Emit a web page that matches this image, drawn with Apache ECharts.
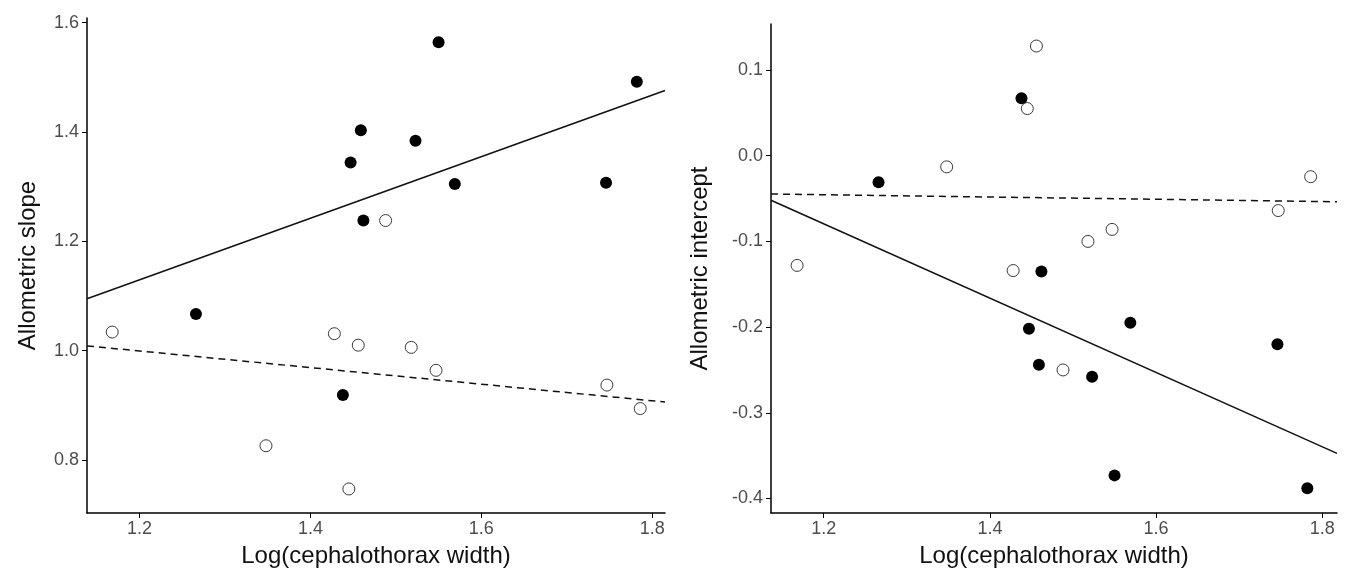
<!DOCTYPE html>
<html>
<head>
<meta charset="utf-8">
<script src="https://cdn.jsdelivr.net/npm/echarts@6/dist/echarts.min.js"></script>
<style>
html,body{margin:0;padding:0;background:#fff;}
#chart{width:1345px;height:575px;}
</style>
</head>
<body>
<div id="chart"></div>
<script>
// ---- data ----
var xTitle = 'Log(cephalothorax width)';
var leftYTitle = 'Allometric slope';
var rightYTitle = 'Allometric intercept';

var xTicks = [1.2, 1.4, 1.6, 1.8];
var leftYTicks = [0.8, 1.0, 1.2, 1.4, 1.6];
var rightYTicks = [-0.4, -0.3, -0.2, -0.1, 0.0, 0.1];

// filled-circle group
var filledX = [1.266, 1.438, 1.447, 1.459, 1.462, 1.523, 1.550, 1.569, 1.746, 1.782];
var filledSlope = [1.067, 0.919, 1.344, 1.403, 1.238, 1.384, 1.564, 1.305, 1.307, 1.492];
var filledIntercept = [-0.031, 0.067, -0.202, -0.244, -0.135, -0.258, -0.373, -0.195, -0.220, -0.388];

// open-circle group
var openX = [1.168, 1.348, 1.428, 1.445, 1.456, 1.488, 1.518, 1.547, 1.747, 1.786];
var openSlope = [1.034, 0.826, 1.031, 0.747, 1.010, 1.238, 1.006, 0.964, 0.937, 0.894];
var openIntercept = [-0.128, -0.013, -0.134, 0.055, 0.128, -0.250, -0.100, -0.086, -0.064, -0.0245];

// fitted lines (endpoints at axis extent)
var leftXRange = [1.1385, 1.815];
var rightXRange = [1.1366, 1.8177];
var leftYRange = [0.703, 1.6085];
var rightYRange = [-0.4169, 0.1537];
var slopeSolidY = [1.095, 1.476];
var slopeDashedY = [1.0087, 0.906];
var interceptSolidY = [-0.0519, -0.3473];
var interceptDashedY = [-0.0447, -0.0537];

function pairs(xs, ys) { return xs.map(function (x, i) { return [x, ys[i]]; }); }

var FONT = 'Liberation Sans, Arial, sans-serif';
var axisLineStyle = { color: '#000', width: 1.5 };
var nameStyle = { color: '#111', fontSize: 24, fontFamily: FONT };
function fmt(v) { return (Math.round(v * 10) / 10).toFixed(1); }

function xAxisDef(gi, range) {
  return {
    type: 'value', gridIndex: gi, min: range[0], max: range[1],
    name: xTitle, nameLocation: 'middle', nameGap: 31, nameTextStyle: nameStyle,
    axisLine: { show: true, onZero: false, lineStyle: axisLineStyle },
    axisTick: { show: true, length: 5, lineStyle: { color: '#000', width: 1 }, customValues: xTicks },
    axisLabel: { margin: 7, customValues: xTicks, formatter: fmt, color: '#4d4d4d', fontSize: 18, fontFamily: FONT },
    splitLine: { show: false }
  };
}
function yAxisDef(gi, range, ticks, title, gap) {
  return {
    type: 'value', gridIndex: gi, min: range[0], max: range[1],
    name: title, nameLocation: 'middle', nameGap: gap, nameTextStyle: nameStyle,
    axisLine: { show: true, onZero: false, lineStyle: axisLineStyle },
    axisTick: { show: true, length: 5, lineStyle: { color: '#000', width: 1 }, customValues: ticks },
    axisLabel: { margin: 8, customValues: ticks, formatter: fmt, color: '#4d4d4d', fontSize: 18, fontFamily: FONT },
    splitLine: { show: false }
  };
}

var filledStyle = { color: '#000', opacity: 1 };
var openStyle = { color: '#fff', borderColor: '#3a3a3a', borderWidth: 1, opacity: 1 };

var option = {
  backgroundColor: '#fff',
  animation: false,
  grid: [
    { left: 87, top: 18, width: 578, height: 495 },
    { left: 771, top: 24, width: 566, height: 489 }
  ],
  xAxis: [xAxisDef(0, leftXRange), xAxisDef(1, rightXRange)],
  yAxis: [
    yAxisDef(0, leftYRange, leftYTicks, leftYTitle, 47),
    yAxisDef(1, rightYRange, rightYTicks, rightYTitle, 59)
  ],
  series: [
    { type: 'line', xAxisIndex: 0, yAxisIndex: 0, data: pairs(leftXRange, slopeSolidY), showSymbol: false, lineStyle: { color: '#111', width: 1.5 }, z: 1 },
    { type: 'line', xAxisIndex: 0, yAxisIndex: 0, data: pairs(leftXRange, slopeDashedY), showSymbol: false, lineStyle: { color: '#111', width: 1.5, type: [7, 5] }, z: 1 },
    { type: 'scatter', xAxisIndex: 0, yAxisIndex: 0, data: pairs(filledX, filledSlope), symbolSize: 12, itemStyle: filledStyle, z: 3 },
    { type: 'scatter', xAxisIndex: 0, yAxisIndex: 0, data: pairs(openX, openSlope), symbolSize: 12, itemStyle: openStyle, z: 2 },
    { type: 'line', xAxisIndex: 1, yAxisIndex: 1, data: pairs(rightXRange, interceptSolidY), showSymbol: false, lineStyle: { color: '#111', width: 1.5 }, z: 1 },
    { type: 'line', xAxisIndex: 1, yAxisIndex: 1, data: pairs(rightXRange, interceptDashedY), showSymbol: false, lineStyle: { color: '#111', width: 1.5, type: [7, 5] }, z: 1 },
    { type: 'scatter', xAxisIndex: 1, yAxisIndex: 1, data: pairs(filledX, filledIntercept), symbolSize: 12, itemStyle: filledStyle, z: 3 },
    { type: 'scatter', xAxisIndex: 1, yAxisIndex: 1, data: pairs(openX, openIntercept), symbolSize: 12, itemStyle: openStyle, z: 2 }
  ]
};

var chart = echarts.init(document.getElementById('chart'), null, { renderer: 'canvas' });
chart.setOption(option);
</script>
</body>
</html>
